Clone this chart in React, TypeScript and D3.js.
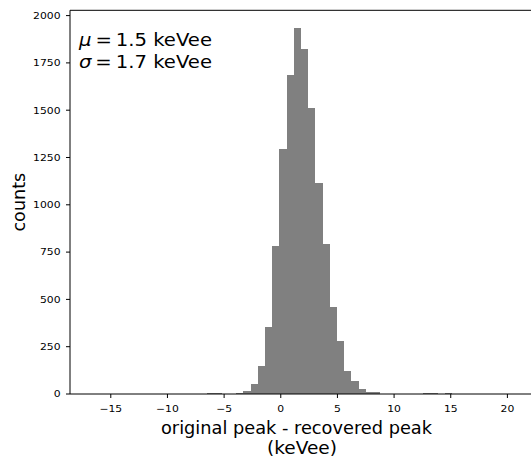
import React from "react";
import * as d3 from "d3";

// Histogram bins (keVee) — 60 bins, start and width
const binStart = -16.635;
const binWidth = 0.635;
const binCounts = [
  1, 0, 0, 0, 0, 0, 0, 0, 0, 0,
  0, 0, 0, 0, 0, 0, 4, 3, 1, 2,
  5, 16, 53, 148, 356, 782, 1295, 1688, 1934, 1823,
  1511, 1115, 793, 460, 280, 122, 69, 26, 12, 10,
  2, 1, 2, 1, 1, 1, 3, 3, 1, 3,
  1, 0, 1, 0, 0, 1, 0, 0, 0, 1,
];
const xTicks = [-15, -10, -5, 0, 5, 10, 15, 20];
const yTicks = [0, 250, 500, 750, 1000, 1250, 1500, 1750, 2000];
const xDomain = [-18.6, 23.3];
const yDomain = [0, 2028];

const FONT = "DejaVu Sans, sans-serif";
const SX = 1.15; // horizontal stretch of tick text

export default function App() {
  const W = 531;
  const H = 462;
  const left = 70;
  const right = 544.8;
  const top = 10.3;
  const bottom = 394;

  const x = d3.scaleLinear().domain(xDomain).range([left, right]);
  const y = d3.scaleLinear().domain(yDomain).range([bottom, top]);

  const bins = binCounts.map((c, i) => ({
    x0: binStart + i * binWidth,
    x1: binStart + (i + 1) * binWidth,
    c,
  }));

  return (
    <svg
      width={W}
      height={H}
      style={{ position: "absolute", left: 0, top: 0, background: "#fff" }}
      fontFamily={FONT}
    >
      <rect x={0} y={0} width={W} height={H} fill="#fff" />
      {bins
        .filter((b) => b.c > 0)
        .map((b, i) => (
          <rect
            key={i}
            x={x(b.x0)}
            y={y(b.c)}
            width={x(b.x1) - x(b.x0)}
            height={bottom - y(b.c)}
            fill="#808080"
            shapeRendering="crispEdges"
          />
        ))}
      {/* spines */}
      <line x1={left} x2={right} y1={top} y2={top} stroke="#000" strokeWidth={1} />
      <line x1={left} x2={right} y1={bottom} y2={bottom} stroke="#000" strokeWidth={1} />
      <line x1={left} x2={left} y1={top} y2={bottom} stroke="#000" strokeWidth={1} />
      <line x1={right} x2={right} y1={top} y2={bottom} stroke="#000" strokeWidth={1} />
      {/* y ticks */}
      {yTicks.map((t) => (
        <g key={t}>
          <line x1={left - 4} x2={left} y1={y(t)} y2={y(t)} stroke="#000" strokeWidth={1} />
          <text
            transform={`translate(${left - 9.5}, ${y(t)}) scale(${SX}, 1)`}
            dy="0.36em"
            textAnchor="end"
            fontSize={9.4}
            fill="#000"
          >
            {t}
          </text>
        </g>
      ))}
      {/* x ticks */}
      {xTicks.map((t) => (
        <g key={t}>
          <line x1={x(t)} x2={x(t)} y1={bottom} y2={bottom + 4} stroke="#000" strokeWidth={1} />
          <text
            transform={`translate(${x(t)}, ${bottom + 17.5}) scale(${SX}, 1)`}
            textAnchor="middle"
            fontSize={9.4}
            fill="#000"
          >
            {t < 0 ? "\u2212" + Math.abs(t) : String(t)}
          </text>
        </g>
      ))}
      {/* axis labels */}
      <text
        x={161}
        y={434}
        fontSize={16.8}
        fill="#000"
        textLength={271}
        lengthAdjust="spacingAndGlyphs"
      >
        original peak - recovered peak
      </text>
      <text
        x={267}
        y={453.5}
        fontSize={16.8}
        fill="#000"
        textLength={70}
        lengthAdjust="spacingAndGlyphs"
      >
        (keVee)
      </text>
      <text
        transform={`translate(24.5, ${(top + bottom) / 2}) rotate(-90)`}
        textAnchor="middle"
        fontSize={17.6}
        fill="#000"
      >
        counts
      </text>
      {/* annotation */}
      <text
        x={79}
        y={46.3}
        fontSize={17}
        fill="#000"
        textLength={133}
        lengthAdjust="spacingAndGlyphs"
      >
        <tspan fontStyle="italic">μ</tspan>
        <tspan>{"\u2009=\u20091.5 keVee"}</tspan>
      </text>
      <text
        x={79}
        y={68.3}
        fontSize={17}
        fill="#000"
        textLength={133}
        lengthAdjust="spacingAndGlyphs"
      >
        <tspan fontStyle="italic">σ</tspan>
        <tspan>{"\u2009=\u20091.7 keVee"}</tspan>
      </text>
    </svg>
  );
}
